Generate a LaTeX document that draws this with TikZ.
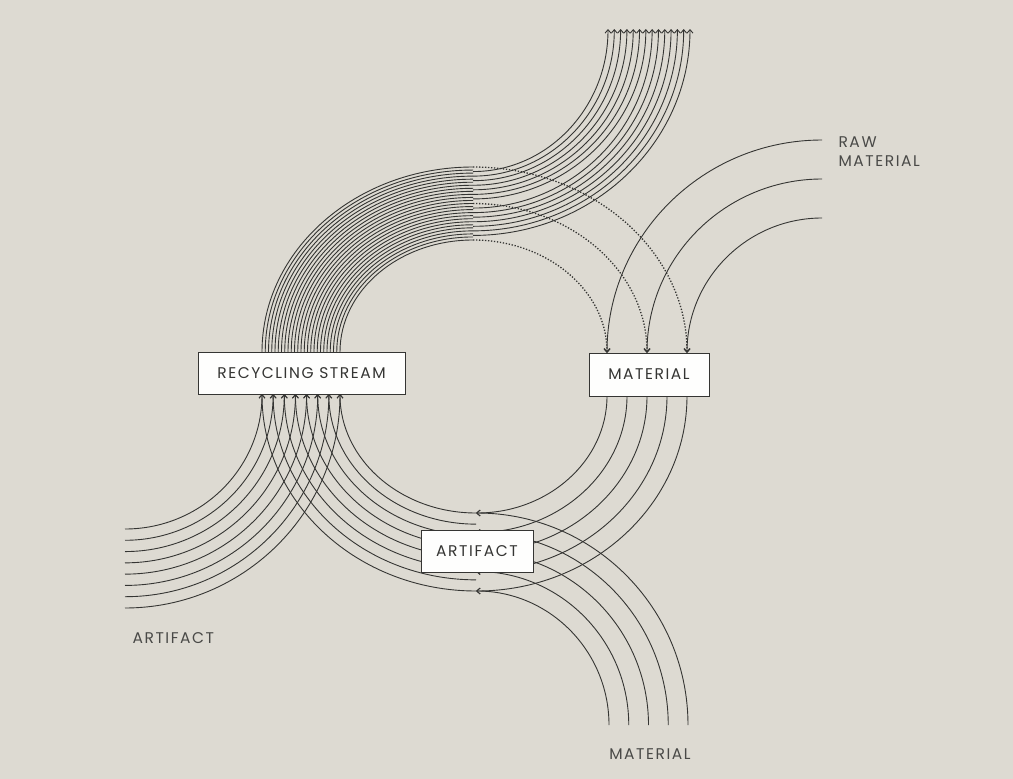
\documentclass[tikz,border=0pt]{standalone}
\usepackage{fontspec}
\setmainfont{Poppins}[LetterSpace=10]
\usepackage{tikz}
\usetikzlibrary{arrows.meta, backgrounds}

\definecolor{paper}{HTML}{DDDAD2}
\definecolor{ink}{HTML}{353533}

\begin{document}
\begin{tikzpicture}[x=1pt, y=-1pt, >={Straight Barb[length=3.5pt, width=6pt]},
  box/.style={draw=ink, fill=white!96!paper, line width=1pt, minimum height=42pt, inner sep=0pt,
    font=\fontsize{15.5}{17}\selectfont, text=ink},
  lbl/.style={font=\fontsize{15.5}{19}\selectfont, text=ink!90, align=left},
  flow/.style={draw=ink, line width=0.9pt},
  dots/.style={draw=ink, line width=1.3pt, dash pattern=on 1.3pt off 1.7pt}]
\useasboundingbox (0,0) rectangle (1013,779);

% boxes and labels
\node[box, minimum width=207pt] (rec) at (301.5,373) {RECYCLING STREAM};
\node[box, minimum width=120pt, minimum height=43pt] (mat) at (649,374.5) {MATERIAL};
\node[box, minimum width=112pt] (art) at (477,551) {ARTIFACT};
\node[lbl, anchor=west] (rawlbl) at (835,152) {RAW\\MATERIAL};
\node[lbl, anchor=west] (artlbl) at (129,638) {ARTIFACT};
\node[lbl] (matlbl) at (650,754) {MATERIAL};

\begin{scope}[on background layer]
\fill[paper] (0,0) rectangle (1013,779);

% recycling stream rising out of the box
\foreach \i in {0,...,24} {
  \pgfmathsetmacro\xr{211-78*\i/24}
  \pgfmathsetmacro\yr{185-73*\i/24}
  \draw[flow] ({473-\xr},352) arc[start angle=180, end angle=270, x radius=\xr, y radius=\yr];
}

% stream leaving at the top
\foreach \j in {0,...,13} {
  \pgfmathsetmacro\ys{167+73*(\j+1+(\j>6))/16}
  \pgfmathsetmacro\xt{608+82*\j/13}
  \draw[flow, ->] (473,\ys) .. controls ({473+0.552*(\xt-473)},\ys) and (\xt,{29+0.552*(\ys-29)}) .. (\xt,29);
}

% recovered material (dotted)
\foreach \ys/\xe in {167/687, 203.5/647, 240/607} {
  \pgfmathsetmacro\xr{\xe-473}
  \pgfmathsetmacro\yr{353-\ys}
  \draw[dots, ->] (473,\ys) arc[start angle=270, end angle=360, x radius=\xr, y radius=\yr];
}

% raw material
\foreach \xr/\yr in {215/213, 175/174, 135/135} {
  \draw[flow, ->] (822,{353-\yr}) arc[start angle=270, end angle=180, x radius=\xr, y radius=\yr];
}

% material to artifact
\foreach \m in {0,...,4} {
  \pgfmathsetmacro\xr{131+20*\m}
  \pgfmathsetmacro\yr{117+19.5*\m}
  \draw[flow, ->] ({476+\xr},396) arc[start angle=0, end angle=90, x radius=\xr, y radius=\yr];
  \pgfmathsetmacro\xr{133+19.75*\m}
  \pgfmathsetmacro\yr{134+19.5*\m}
  \draw[flow, ->] ({476+\xr},725) arc[start angle=0, end angle=-90, x radius=\xr, y radius=\yr];
}

% artifacts back to the recycling stream
\foreach \n in {0,...,7} {
  \pgfmathsetmacro\xr{214-78*\n/7}
  \pgfmathsetmacro\yr{197-78*\n/7}
  \draw[flow, ->] (476,{394+\yr}) arc[start angle=90, end angle=180, x radius=\xr, y radius=\yr];
  \pgfmathsetmacro\xr{137+78*\n/7}
  \pgfmathsetmacro\yr{135+79*\n/7}
  \draw[flow, ->] (125,{394+\yr}) arc[start angle=90, end angle=0, x radius=\xr, y radius=\yr];
}
\end{scope}
\end{tikzpicture}
\end{document}
